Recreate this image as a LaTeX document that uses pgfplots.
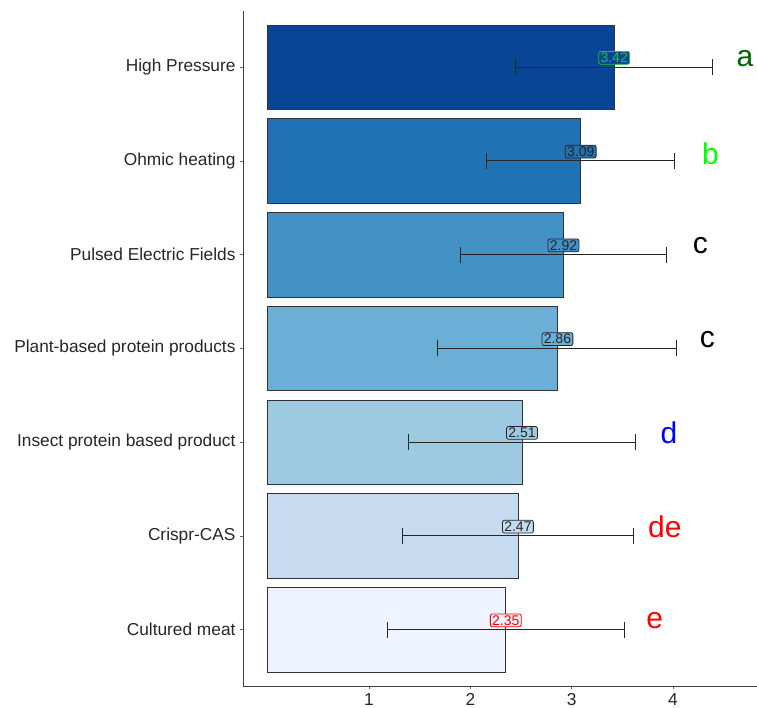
\documentclass[border=0pt]{standalone}
\usepackage{pgfplots}
\pgfplotsset{compat=1.18}
\usepackage{fontspec}
\setmainfont{Liberation Sans}
\definecolor{b1}{HTML}{EFF3FF}
\definecolor{b2}{HTML}{C6DBEF}
\definecolor{b3}{HTML}{9ECAE1}
\definecolor{b4}{HTML}{6BAED6}
\definecolor{b5}{HTML}{4292C6}
\definecolor{b6}{HTML}{2171B5}
\definecolor{b7}{HTML}{084594}
\definecolor{lgreen}{RGB}{20,200,40}
\definecolor{dgreen}{RGB}{0,100,0}
\definecolor{bgreen}{RGB}{0,255,0}
\begin{document}
\begin{tikzpicture}
\useasboundingbox (0,0) rectangle (757pt,708pt);
\begin{axis}[
  at={(243pt,22pt)}, anchor=south west,
  scale only axis, width=514pt, height=675pt,
  xmin=-0.244, xmax=4.83, ymin=-0.6, ymax=6.6,
  axis x line*=bottom, axis y line*=left,
  axis line style={draw=black!75, line width=0.9pt},
  xtick={1,2,3,4},
  ytick={0,1,2,3,4,5,6},
  yticklabels={Cultured meat,Crispr-CAS,Insect protein based product,Plant-based protein products,Pulsed Electric Fields,Ohmic heating,High Pressure},
  tick style={draw=black!60, line width=0.6pt},
  major tick length=3pt,
  tick align=outside,
  ticklabel style={font=\fontsize{17.3}{20}\selectfont, text=black!85},
  /pgf/number format/assume math mode=true,
  xticklabel style={yshift=-1pt},
  yticklabel style={xshift=-1pt},
  clip=false,
  bb/.style={xbar, bar width=0.9, bar shift=0pt, draw=black!80, line width=0.7pt},
]
\addplot[bb, fill=b1] coordinates {(2.35,0)};
\addplot[bb, fill=b2] coordinates {(2.47,1)};
\addplot[bb, fill=b3] coordinates {(2.51,2)};
\addplot[bb, fill=b4] coordinates {(2.86,3)};
\addplot[bb, fill=b5] coordinates {(2.92,4)};
\addplot[bb, fill=b6] coordinates {(3.09,5)};
\addplot[bb, fill=b7] coordinates {(3.42,6)};
% error bars on top
\addplot[draw=none, mark=none,
  error bars/.cd, x dir=both, x explicit,
  error bar style={draw=black!85, line width=1pt},
  error mark options={draw=black!85, line width=1pt, mark size=8pt, rotate=90}]
  coordinates {
  (2.35,0) +- (1.17,0)
  (2.47,1) +- (1.14,0)
  (2.51,2) +- (1.12,0)
  (2.86,3) +- (1.18,0)
  (2.92,4) +- (1.02,0)
  (3.09,5) +- (0.93,0)
  (3.42,6) +- (0.97,0)
  };
% value labels
\tikzset{vl/.style={rounded corners=2pt, inner xsep=1.8pt, inner ysep=1.5pt, line width=0.8pt, font=\fontsize{14}{15}\selectfont}}
\node[vl, fill=b7, draw=lgreen, text=lgreen] at (axis cs:3.42,6.1) {3.42};
\node[vl, fill=b6, draw=black!85, text=black!85] at (axis cs:3.09,5.1) {3.09};
\node[vl, fill=b5, draw=black!85, text=black!85] at (axis cs:2.92,4.1) {2.92};
\node[vl, fill=b4, draw=black!85, text=black!85] at (axis cs:2.86,3.1) {2.86};
\node[vl, fill=b3, draw=black!85, text=black!85] at (axis cs:2.51,2.1) {2.51};
\node[vl, fill=b2, draw=black!85, text=black!85] at (axis cs:2.47,1.1) {2.47};
\node[vl, fill=b1, draw=red, text=red] at (axis cs:2.35,0.1) {2.35};
% letters
\tikzset{lt/.style={font=\fontsize{30}{32}\selectfont, inner sep=0pt}}
\node[lt, text=dgreen] at (axis cs:4.71,6.09) {a};
\node[lt, text=bgreen] at (axis cs:4.37,5.08) {b};
\node[lt, text=black] at (axis cs:4.27,4.1) {c};
\node[lt, text=black] at (axis cs:4.34,3.1) {c};
\node[lt, text=blue] at (axis cs:3.96,2.1) {d};
\node[lt, text=red] at (axis cs:3.92,1.1) {de};
\node[lt, text=red] at (axis cs:3.82,0.1) {e};
\end{axis}
\end{tikzpicture}
\end{document}
